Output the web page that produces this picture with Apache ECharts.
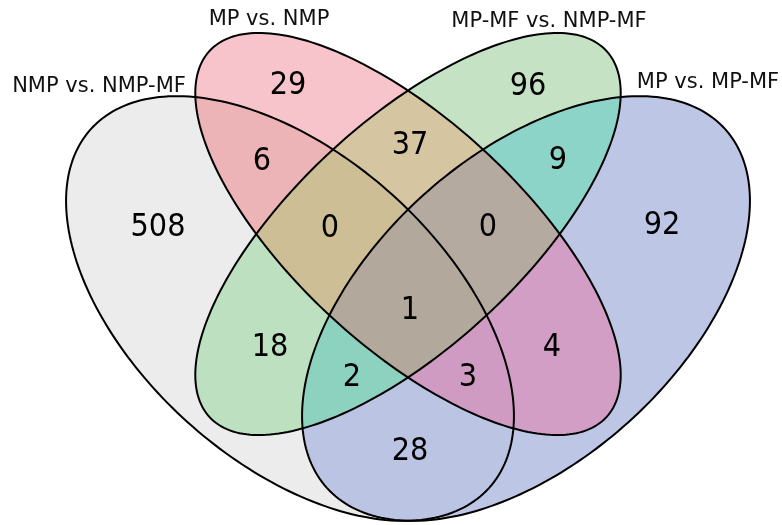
<!DOCTYPE html>
<html>
<head>
<meta charset="utf-8">
<title>Venn diagram</title>
<script src="https://cdn.jsdelivr.net/npm/echarts@6/dist/echarts.min.js"></script>
<style>
  html, body { margin: 0; padding: 0; background: #fff; }
  #chart { width: 782px; height: 525px; }
</style>
</head>
<body>
<div id="chart"></div>
<script>
// Sets (A..D) and region counts
const setNames = ['NMP vs. NMP-MF', 'MP vs. NMP', 'MP-MF vs. NMP-MF', 'MP vs. MP-MF'];
const setKeys = ['A', 'B', 'C', 'D'];
const regionKeys = ['A', 'B', 'C', 'D', 'AB', 'AC', 'AD', 'BC', 'BD', 'CD', 'ABC', 'ABD', 'ACD', 'BCD', 'ABCD'];
const regionCounts = [508, 29, 96, 92, 6, 18, 28, 37, 4, 9, 0, 3, 2, 0, 1];

// Layout, in the pixel space of the hidden value axes
const ellipses = [
    { cx: 290, cy: 308.5, a: 268, b: 153, angle: 42 },
    { cx: 408, cy: 234, a: 270, b: 113, angle: 42.7 },
    { cx: 408, cy: 234, a: 270, b: 113, angle: 137.3 },
    { cx: 526, cy: 308.5, a: 268, b: 153, angle: 138 }
];
const countPos = {
    A: [158, 228], B: [288, 86], C: [528, 87], D: [662, 226],
    AB: [262, 162], AC: [270, 348], AD: [410, 452], BC: [410, 146],
    BD: [552, 348], CD: [558, 161], ABC: [330, 229], ABD: [468, 378],
    ACD: [352, 378], BCD: [488, 228], ABCD: [410, 311]
};
const setLabelPos = [[99, 87], [269, 20], [549, 22], [708, 83]];

const regionColors = {
    A: '#ececec', B: '#f6c4ca', C: '#c5e3c4', D: '#bec6e6',
    AB: '#ecb4b6', AC: '#bde1c0', AD: '#bcc4e4', BC: '#d5c5a0',
    BD: '#d29ec6', CD: '#8cd4c8', ABC: '#cdbe96', ABD: '#d09bc3',
    ACD: '#8cd2be', BCD: '#b4aaa0', ABCD: '#b2a89b'
};

function ellipsePoints(e, n) {
    const th = e.angle * Math.PI / 180;
    const pts = [];
    for (let i = 0; i < n; i++) {
        const t = i / n * Math.PI * 2;
        const u = e.a * Math.cos(t), v = e.b * Math.sin(t);
        pts.push([e.cx + u * Math.cos(th) - v * Math.sin(th), e.cy + u * Math.sin(th) + v * Math.cos(th)]);
    }
    return pts;
}

// Sutherland-Hodgman, clip polygon is convex
function clipPoly(subject, clip) {
    let area = 0;
    for (let i = 0; i < clip.length; i++) {
        const p = clip[i], q = clip[(i + 1) % clip.length];
        area += p[0] * q[1] - q[0] * p[1];
    }
    const s = Math.sign(area);
    const inside = (p, a, b) => s * ((b[0] - a[0]) * (p[1] - a[1]) - (b[1] - a[1]) * (p[0] - a[0])) >= 0;
    const cross = (p, q, a, b) => {
        const d1 = [q[0] - p[0], q[1] - p[1]], d2 = [b[0] - a[0], b[1] - a[1]];
        const den = d1[0] * d2[1] - d1[1] * d2[0];
        const t = ((a[0] - p[0]) * d2[1] - (a[1] - p[1]) * d2[0]) / den;
        return [p[0] + t * d1[0], p[1] + t * d1[1]];
    };
    let out = subject;
    for (let i = 0; i < clip.length && out.length; i++) {
        const a = clip[i], b = clip[(i + 1) % clip.length];
        const input = out;
        out = [];
        for (let j = 0; j < input.length; j++) {
            const p = input[j], q = input[(j + 1) % input.length];
            const pin = inside(p, a, b), qin = inside(q, a, b);
            if (pin) {
                out.push(p);
                if (!qin) out.push(cross(p, q, a, b));
            } else if (qin) {
                out.push(cross(p, q, a, b));
            }
        }
    }
    return out;
}

const shapes = ellipses.map(e => ellipsePoints(e, 240));

function regionShape(key) {
    const idx = key.split('').map(k => setKeys.indexOf(k));
    let poly = shapes[idx[0]];
    for (let i = 1; i < idx.length; i++) poly = clipPoly(poly, shapes[idx[i]]);
    return poly;
}

const chart = echarts.init(document.getElementById('chart'));

const option = {
    animation: false,
    backgroundColor: '#fff',
    grid: { left: 0, right: 0, top: 0, bottom: 0 },
    xAxis: { type: 'value', min: 0, max: 782, show: false },
    yAxis: { type: 'value', min: 0, max: 525, inverse: true, show: false },
    series: [
        {
            // region fills, drawn from single sets up to the 4-way overlap
            type: 'custom',
            z: 1,
            silent: true,
            data: regionKeys.map((k, i) => [i, 0]),
            renderItem: (params, api) => {
                const key = regionKeys[params.dataIndex];
                const pts = regionShape(key).map(p => api.coord(p));
                return {
                    type: 'polygon',
                    shape: { points: pts },
                    style: { fill: regionColors[key], stroke: null }
                };
            }
        },
        {
            // outlines
            type: 'custom',
            z: 2,
            silent: true,
            data: setKeys.map((k, i) => [i, 0]),
            renderItem: (params, api) => {
                const pts = shapes[params.dataIndex].map(p => api.coord(p));
                return {
                    type: 'polygon',
                    shape: { points: pts },
                    style: { fill: null, stroke: '#000', lineWidth: 2 }
                };
            }
        },
        {
            type: 'scatter',
            z: 3,
            silent: true,
            symbolSize: 1,
            itemStyle: { color: 'rgba(0,0,0,0)', opacity: 1 },
            data: regionKeys.map((k, i) => [countPos[k][0], countPos[k][1], regionCounts[i]]),
            label: {
                show: true,
                position: 'inside',
                formatter: p => p.value[2],
                fontFamily: '"DejaVu Sans Condensed", "DejaVu Sans", sans-serif',
                fontSize: 32,
                color: '#000'
            }
        },
        {
            type: 'scatter',
            z: 3,
            silent: true,
            symbolSize: 1,
            itemStyle: { color: 'rgba(0,0,0,0)', opacity: 1 },
            data: setNames.map((n, i) => [setLabelPos[i][0], setLabelPos[i][1], n]),
            label: {
                show: true,
                position: 'inside',
                formatter: p => p.value[2],
                fontFamily: '"DejaVu Sans", sans-serif',
                fontSize: 21,
                color: '#111'
            }
        }
    ]
};

chart.setOption(option);
</script>
</body>
</html>
